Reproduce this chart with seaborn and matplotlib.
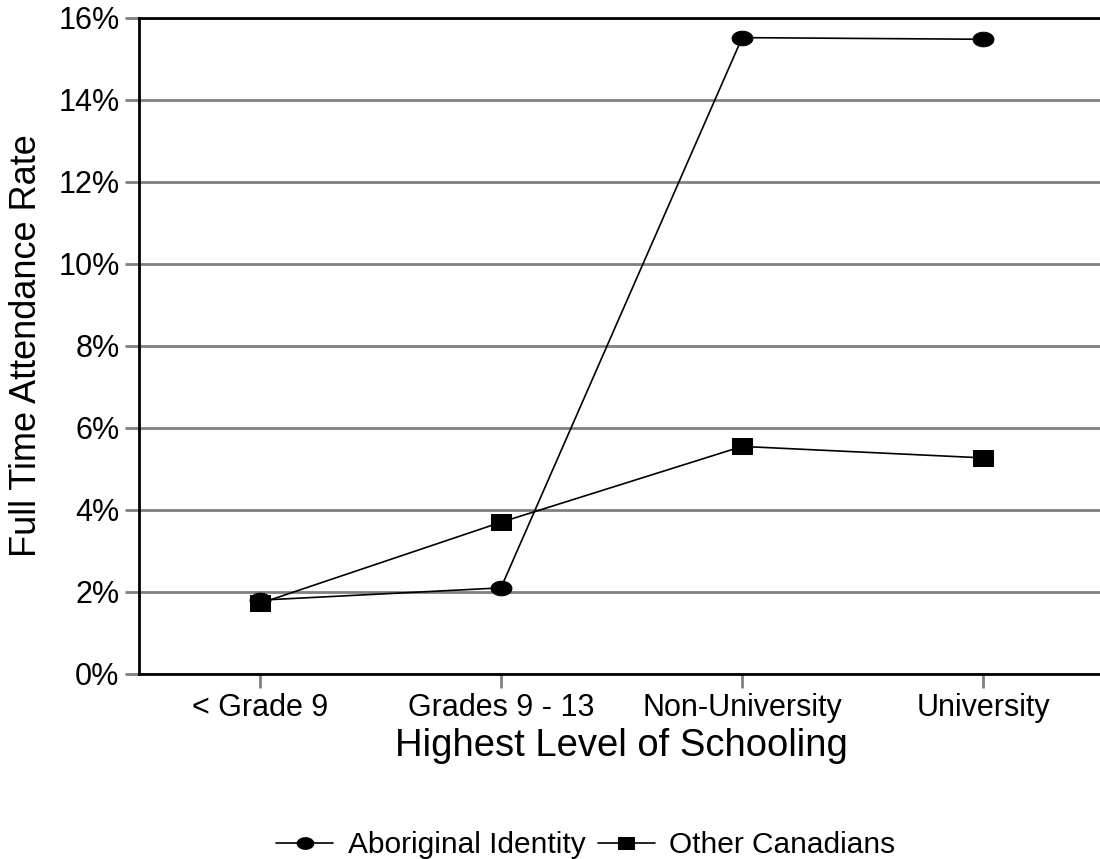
import numpy as np
import pandas as pd
import matplotlib
matplotlib.use("Agg")
import matplotlib.pyplot as plt
from matplotlib.ticker import FuncFormatter
import seaborn as sns

# ── DATA ─────────────────────────────────────────────────────────────────────
levels     = ["< Grade 9", "Grades 9 - 13", "Non-University", "University"]
aboriginal = [1.80, 2.10, 15.52, 15.48]
other      = [1.72, 3.70, 5.55, 5.27]
groups     = ["Aboriginal Identity", "Other Canadians"]
y_ticks    = [0, 2, 4, 6, 8, 10, 12, 14, 16]

df = pd.DataFrame({
    "level": levels * 2,
    "rate":  aboriginal + other,
    "group": [groups[0]] * 4 + [groups[1]] * 4,
})

# ── STYLE ────────────────────────────────────────────────────────────────────
sns.set_style("white")
plt.rcParams["font.family"] = ["Liberation Sans", "DejaVu Sans"]
plt.rcParams["text.color"] = "black"
plt.rcParams["axes.labelcolor"] = "black"
plt.rcParams["xtick.labelcolor"] = "black"
plt.rcParams["ytick.labelcolor"] = "black"

# slightly squashed markers like the original
t = np.linspace(0, 2 * np.pi, 40)
ellipse = list(zip(np.cos(t), 0.7 * np.sin(t)))
rect = [(-1, -0.73), (1, -0.73), (1, 0.73), (-1, 0.73), (-1, -0.73)]

fig = plt.figure(figsize=(11, 8.59), dpi=100)
ax = fig.add_axes([0.1264, 0.2154, 0.8773, 0.7637])

sns.lineplot(data=df, x="level", y="rate", style="group",
             markers={groups[0]: ellipse, groups[1]: rect},
             dashes=False, color="black", linewidth=1.2,
             markersize=15, markeredgecolor="black", markerfacecolor="black",
             legend=True, ax=ax)

# ── AXES ─────────────────────────────────────────────────────────────────────
ax.set_xlim(-0.5, 3.5)
ax.set_ylim(0, 16)
ax.set_yticks(y_ticks)
ax.yaxis.set_major_formatter(FuncFormatter(lambda v, p: f"{v:.0f}%"))
ax.yaxis.grid(True, color="#808080", linewidth=2)
ax.xaxis.grid(False)
ax.set_axisbelow(True)

for side in ["left", "top", "bottom"]:
    ax.spines[side].set_color("black")
    ax.spines[side].set_linewidth(2)
ax.spines["right"].set_visible(False)

ax.tick_params(axis="both", which="major", labelsize=22, color="#808080",
               length=10, width=2, direction="out", pad=4,
               left=True, bottom=True)

ax.set_xlabel("Highest Level of Schooling", fontsize=27.5, labelpad=3)
ax.set_ylabel("Full Time Attendance Rate", fontsize=26, labelpad=10)

# ── LEGEND ───────────────────────────────────────────────────────────────────
handles, labels = ax.get_legend_handles_labels()
ax.get_legend().remove()
fig.legend(handles, labels, loc="center", bbox_to_anchor=(586 / 1100, 1 - 845 / 859),
           ncol=2, frameon=False, fontsize=21.5, handlelength=1.9,
           handletextpad=0.5, columnspacing=0.4, markerscale=0.8)

plt.savefig("out.png", dpi=100)
